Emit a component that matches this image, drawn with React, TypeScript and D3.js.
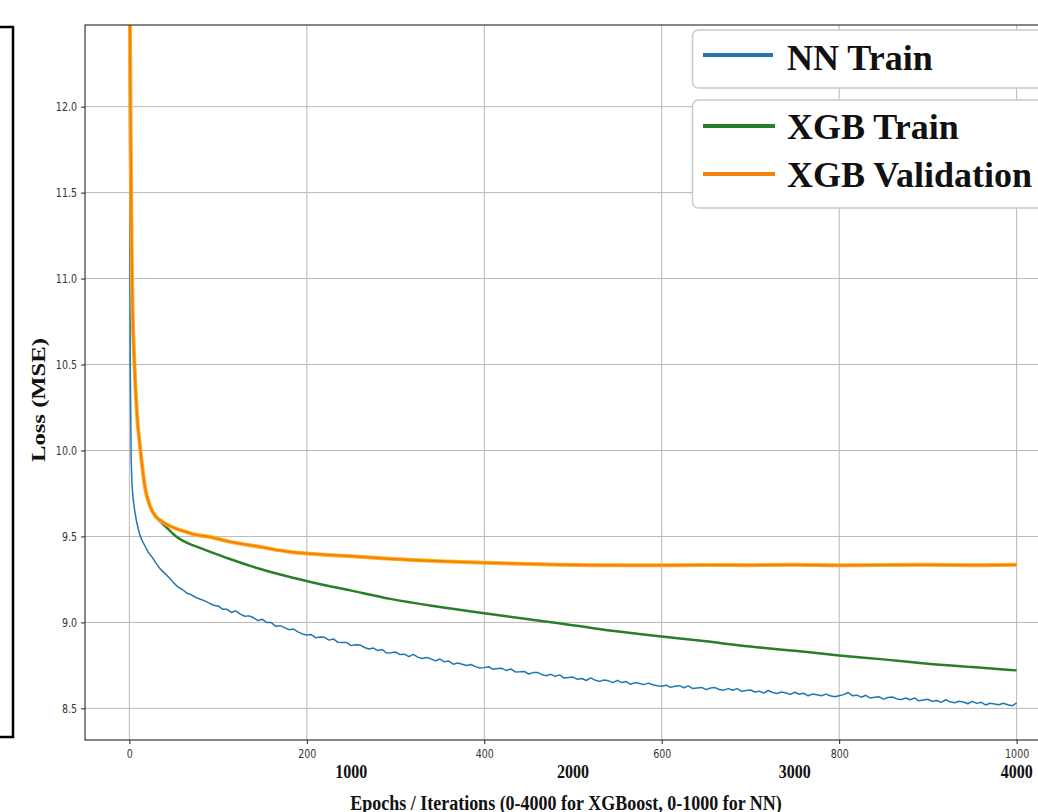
import * as d3 from "d3";
import { useRef, useEffect } from "react";

// NN train loss (epochs 0-1000)
const nnEarlyEpochs = [0, 1, 2, 3, 4, 5, 6, 8, 10, 12, 15, 18, 21, 24, 27, 30, 35, 40, 45, 50, 55, 60, 65, 70, 75, 80, 85, 90, 95];
const nnEarlyLoss = [12.29, 10.5, 9.95, 9.8, 9.73, 9.69, 9.65, 9.59, 9.545, 9.505, 9.47, 9.44, 9.41, 9.39, 9.37, 9.345, 9.31, 9.285, 9.26, 9.23, 9.205, 9.19, 9.17, 9.16, 9.145, 9.135, 9.125, 9.112, 9.1];
const nnLateEpochs = d3.range(100, 1001, 5);
const nnLateLoss = [
  9.096, 9.077, 9.076, 9.058, 9.067, 9.048, 9.036, 9.038, 9.027, 9.011, 9.018, 8.999, 8.999, 8.977, 8.981, 8.970, 8.958, 8.961, 8.945, 8.933,
  8.927, 8.929, 8.911, 8.915, 8.913, 8.897, 8.904, 8.884, 8.883, 8.883, 8.865, 8.870, 8.869, 8.854, 8.845, 8.851, 8.836, 8.842, 8.822, 8.823,
  8.828, 8.813, 8.815, 8.801, 8.814, 8.798, 8.790, 8.796, 8.788, 8.776, 8.787, 8.771, 8.775, 8.757, 8.764, 8.757, 8.749, 8.755, 8.743, 8.735,
  8.737, 8.742, 8.727, 8.732, 8.733, 8.720, 8.729, 8.712, 8.713, 8.715, 8.700, 8.708, 8.709, 8.696, 8.690, 8.698, 8.686, 8.695, 8.676, 8.680,
  8.682, 8.669, 8.674, 8.662, 8.677, 8.664, 8.657, 8.665, 8.660, 8.650, 8.663, 8.650, 8.656, 8.640, 8.650, 8.645, 8.638, 8.647, 8.637, 8.631,
  8.629, 8.635, 8.622, 8.629, 8.632, 8.620, 8.631, 8.615, 8.619, 8.622, 8.609, 8.618, 8.621, 8.610, 8.606, 8.615, 8.605, 8.615, 8.599, 8.604,
  8.607, 8.595, 8.600, 8.589, 8.604, 8.592, 8.586, 8.595, 8.590, 8.581, 8.594, 8.582, 8.588, 8.573, 8.583, 8.579, 8.573, 8.583, 8.573, 8.568,
  8.574, 8.580, 8.592, 8.574, 8.577, 8.565, 8.576, 8.560, 8.564, 8.567, 8.554, 8.563, 8.566, 8.555, 8.551, 8.560, 8.550, 8.560, 8.544, 8.549,
  8.553, 8.541, 8.546, 8.535, 8.550, 8.538, 8.533, 8.541, 8.537, 8.527, 8.541, 8.529, 8.535, 8.520, 8.530, 8.526, 8.521, 8.530, 8.521, 8.515,
  8.532,
];

// XGBoost curves (iterations 0-4000)
const xgbTrainIters = [0, 4, 8, 12, 23, 35, 50, 70, 95, 120, 150, 180, 211, 240, 270, 300, 365, 450, 587, 724, 812, 1000, 1176, 1400, 1600, 1800, 1928, 2100, 2348, 2600, 2752, 3000, 3200, 3400, 3576, 3800, 4000];
const xgbTrainLoss = [12.9, 12.2, 11.5, 11.0, 10.5, 10.2, 10.0, 9.79, 9.67, 9.612, 9.574, 9.537, 9.5, 9.476, 9.457, 9.442, 9.41, 9.37, 9.312, 9.264, 9.237, 9.185, 9.137, 9.09, 9.053, 9.018, 8.997, 8.965, 8.925, 8.89, 8.866, 8.835, 8.808, 8.785, 8.763, 8.74, 8.721];
const xgbValIters = [0, 4, 8, 12, 23, 35, 50, 70, 95, 120, 150, 180, 211, 260, 300, 365, 450, 587, 724, 812, 900, 1000, 1176, 1400, 1600, 1800, 1928, 2100, 2348, 2600, 2800, 3000, 3200, 3400, 3600, 3800, 4000];
const xgbValLoss = [12.9, 12.2, 11.5, 11.0, 10.5, 10.2, 10.0, 9.79, 9.67, 9.615, 9.585, 9.562, 9.545, 9.525, 9.51, 9.497, 9.47, 9.44, 9.41, 9.4, 9.392, 9.385, 9.37, 9.356, 9.347, 9.34, 9.336, 9.333, 9.332, 9.334, 9.333, 9.335, 9.332, 9.334, 9.335, 9.333, 9.335];

const epochTicks = [0, 200, 400, 600, 800, 1000];
const iterTicks = [1000, 2000, 3000, 4000];
const lossTicks = [8.5, 9.0, 9.5, 10.0, 10.5, 11.0, 11.5, 12.0];

const legendTop = [{ label: "NN Train", color: "#1f77b4" }];
const legendBottom = [
  { label: "XGB Train", color: "#2a7d2a" },
  { label: "XGB Validation", color: "#f5820f" },
];

const W = 1038, H = 812;
const left = 85, top = 25, right = 1061, bottom = 740;
const serif = "'Liberation Serif', 'Times New Roman', serif";

export default function App() {
  const gx = useRef<SVGGElement>(null);
  const gy = useRef<SVGGElement>(null);

  const x = d3.scaleLinear([-50, 1050], [left, right]);
  const xIter = d3.scaleLinear([-200, 4200], [left, right]);
  const y = d3.scaleLinear([8.316, 12.475], [bottom, top]);

  const nn = [...nnEarlyEpochs.map((e, i) => [e, nnEarlyLoss[i]]), ...nnLateEpochs.map((e, i) => [e, nnLateLoss[i]])];
  const xgbTrain = xgbTrainIters.map((it, i) => [it, xgbTrainLoss[i]]);
  const xgbVal = xgbValIters.map((it, i) => [it, xgbValLoss[i]]);

  const nnLine = d3.line<number[]>().x((d) => x(d[0])).y((d) => y(d[1]));
  const xgbLine = d3.line<number[]>().x((d) => xIter(d[0])).y((d) => y(d[1])).curve(d3.curveMonotoneX);

  useEffect(() => {
    const sx = d3.select(gx.current!);
    sx.call(d3.axisBottom(x).tickValues(epochTicks).tickSize(4).tickPadding(4).tickFormat(d3.format("d")));
    sx.select(".domain").remove();
    sx.selectAll("line").attr("stroke", "#222");
    sx.selectAll("text").attr("font-family", "'DejaVu Sans', sans-serif").attr("font-size", 9.5).attr("fill", "#333").attr("transform", "scale(1,1.2)");

    const sy = d3.select(gy.current!);
    sy.call(d3.axisLeft(y).tickValues(lossTicks).tickSize(4).tickPadding(4).tickFormat(d3.format(".1f")));
    sy.select(".domain").remove();
    sy.selectAll("line").attr("stroke", "#222");
    sy.selectAll("text").attr("font-family", "'DejaVu Sans', sans-serif").attr("font-size", 9.5).attr("fill", "#333").attr("transform", "scale(1,1.2)");
  }, [x, y]);

  return (
    <svg width={W} height={H} style={{ position: "absolute", left: 0, top: 0, background: "white" }}>
      <defs>
        <clipPath id="plotClip">
          <rect x={left} y={top} width={right - left} height={bottom - top} />
        </clipPath>
      </defs>

      {/* stray frame on the far left */}
      <rect x={-10} y={27} width={23} height={710} fill="none" stroke="black" strokeWidth={2.5} />

      {/* grid */}
      <g stroke="#b8b8b8" strokeWidth={1}>
        {epochTicks.map((t) => (
          <line key={"gx" + t} x1={x(t)} x2={x(t)} y1={top} y2={bottom} />
        ))}
        {lossTicks.map((t) => (
          <line key={"gy" + t} x1={left} x2={right} y1={y(t)} y2={y(t)} />
        ))}
      </g>

      <g clipPath="url(#plotClip)" fill="none" strokeLinejoin="round">
        <path d={nnLine(nn) ?? ""} stroke="#1f77b4" strokeWidth={1.5} />
        <path d={xgbLine(xgbTrain) ?? ""} stroke="#2a7d2a" strokeWidth={2.5} />
        <path d={xgbLine(xgbVal) ?? ""} stroke="#ffb81c" strokeWidth={4} />
        <path d={xgbLine(xgbVal) ?? ""} stroke="#f5820f" strokeWidth={2.2} />
      </g>

      {/* axes frame */}
      <rect x={left} y={top} width={right - left} height={bottom - top} fill="none" stroke="#111" strokeWidth={1} />
      <g ref={gx} transform={`translate(0,${bottom})`} />
      <g ref={gy} transform={`translate(${left},0)`} />

      {/* XGBoost iteration labels */}
      {iterTicks.map((t) => (
        <text key={"it" + t} transform={`translate(${xIter(t)},778) scale(1,1.2)`} textAnchor="middle"
          fontFamily={serif} fontWeight="bold" fontSize={16} fill="#111">
          {t}
        </text>
      ))}

      <text transform="translate(566,810) scale(1,1.2)" textAnchor="middle" fontFamily={serif} fontWeight="bold" fontSize={18} fill="#111">
        Epochs / Iterations (0-4000 for XGBoost, 0-1000 for NN)
      </text>
      <text transform="translate(45,400) rotate(-90)" textAnchor="middle" fontFamily={serif} fontWeight="bold" fontSize={19}
        textLength={124} lengthAdjust="spacingAndGlyphs" fill="#111">
        Loss (MSE)
      </text>

      {/* legends */}
      <rect x={692.5} y={30} width={400} height={58} rx={6} fill="white" stroke="#c8c8c8" strokeWidth={1.5} />
      <rect x={692.5} y={100} width={400} height={108} rx={6} fill="white" stroke="#c8c8c8" strokeWidth={1.5} />
      {legendTop.map((d) => (
        <g key={d.label}>
          <line x1={703} x2={773} y1={55} y2={55} stroke={d.color} strokeWidth={4} />
          <text x={787} y={70} fontFamily={serif} fontWeight="bold" fontSize={36} fill="#111">{d.label}</text>
        </g>
      ))}
      {legendBottom.map((d, i) => (
        <g key={d.label}>
          <line x1={703} x2={775} y1={126 + i * 48} y2={126 + i * 48} stroke={d.color} strokeWidth={4} />
          <text x={787} y={139 + i * 48} fontFamily={serif} fontWeight="bold" fontSize={36} fill="#111">{d.label}</text>
        </g>
      ))}
    </svg>
  );
}
